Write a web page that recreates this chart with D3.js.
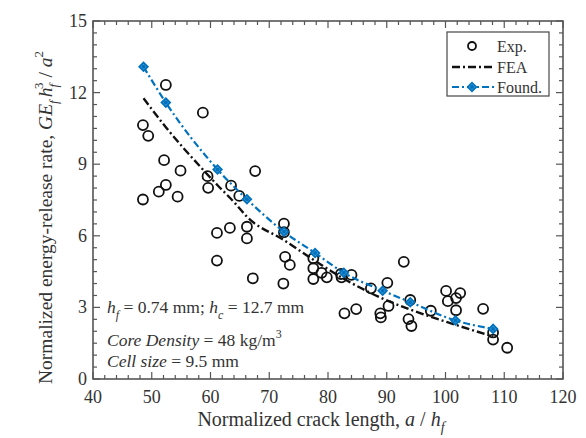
<!DOCTYPE html>
<html>
<head>
<meta charset="utf-8">
<script src="https://cdn.jsdelivr.net/npm/d3@7"></script>
<style>
  body { margin: 0; background: #fff; }
  text { font-family: "Liberation Serif", "Times New Roman", serif; fill: #333; }
</style>
</head>
<body>
<div id="chart"></div>
<script>
var W = 586, H = 438;
var margin = {top: 21, right: 23, bottom: 59, left: 93};

// experimental points (a/hf, normalized G)
var expX = [48.5, 48.5, 49.4, 52.4, 52.1, 54.9, 52.4, 51.2, 54.4, 58.7, 59.5, 59.6, 63.5, 64.9, 67.6,
            61.1, 63.3, 66.2, 66.2, 61.1, 67.2, 72.5, 72.5, 72.7, 73.5, 72.4, 77.5, 77.5, 77.5, 78.9,
            79.8, 82.2, 82.3, 84.0, 82.8, 84.8, 87.3, 90.1, 90.3, 88.9, 89.0, 92.9, 94.0, 93.7, 94.2,
            97.5, 100.1, 102.5, 100.4, 101.8, 101.8, 106.4, 108.1, 108.1, 110.5];
var expY = [7.52, 10.64, 10.19, 12.32, 9.17, 8.73, 8.13, 7.85, 7.64, 11.16, 8.50, 8.01, 8.10, 7.67, 8.71,
            6.12, 6.33, 6.38, 5.89, 4.96, 4.22, 6.51, 6.15, 5.12, 4.78, 4.00, 5.06, 4.64, 4.19, 4.45,
            4.26, 4.40, 4.26, 4.36, 2.75, 2.93, 3.80, 4.03, 3.06, 2.75, 2.58, 4.91, 3.31, 2.51, 2.22,
            2.86, 3.69, 3.60, 3.26, 3.39, 2.88, 2.94, 1.95, 1.65, 1.31];

// FEA curve
var feaX = [48.6, 52.4, 58.5, 61.2, 64.2, 66.2, 72.5, 77.8, 82.7, 89.2, 94.1, 101.6, 108.1];
var feaY = [11.76, 10.55, 8.83, 8.12, 7.36, 6.8, 5.82, 4.95, 4.2, 3.38, 2.9, 2.28, 1.78];

// Foundation model
var foundX = [48.6, 52.4, 61.2, 66.2, 72.5, 77.8, 82.7, 89.3, 94.0, 101.7, 108.1];
var foundY = [13.08, 11.58, 8.78, 7.53, 6.17, 5.28, 4.45, 3.7, 3.22, 2.45, 2.1];

var xTicks = [40, 50, 60, 70, 80, 90, 100, 110, 120];
var yTicks = [0, 3, 6, 9, 12, 15];

var blue = "#0072BD";

var svg = d3.select("#chart").append("svg")
            .attr("width", W)
            .attr("height", H);

var x = d3.scaleLinear().domain([40, 120]).range([margin.left, W - margin.right]);
var y = d3.scaleLinear().domain([0, 15]).range([H - margin.bottom, margin.top]);

var x0 = x.range()[0], x1 = x.range()[1];
var y0 = y.range()[0], y1 = y.range()[1];

// ticks, all pointing inwards, on all four sides
var axisColor = "#555";
var xMinor = d3.range(40, 120.01, 2);
var yMinor = d3.range(0, 15.01, 0.5);
var tg = svg.append("g").attr("stroke", axisColor).attr("stroke-width", 1.2);

xMinor.forEach(function(v){
  var len = (v % 10 == 0) ? 7 : 4;
  tg.append("line").attr("x1", x(v)).attr("x2", x(v)).attr("y1", y0).attr("y2", y0 - len);
  tg.append("line").attr("x1", x(v)).attr("x2", x(v)).attr("y1", y1).attr("y2", y1 + len);
});
yMinor.forEach(function(v){
  var len = (Math.abs(v % 3) < 1e-6) ? 7 : 4;
  tg.append("line").attr("y1", y(v)).attr("y2", y(v)).attr("x1", x0).attr("x2", x0 + len);
  tg.append("line").attr("y1", y(v)).attr("y2", y(v)).attr("x1", x1).attr("x2", x1 - len);
});

svg.append("rect")
   .attr("x", x0).attr("y", y1)
   .attr("width", x1 - x0).attr("height", y0 - y1)
   .attr("fill", "none").attr("stroke", axisColor).attr("stroke-width", 1.6);

// tick labels
svg.append("g").selectAll("text").data(xTicks).enter().append("text")
   .attr("x", function(d){ return x(d); })
   .attr("y", y0 + 24)
   .attr("text-anchor", "middle")
   .attr("font-size", 18)
   .text(function(d){ return d; });

svg.append("g").selectAll("text").data(yTicks).enter().append("text")
   .attr("x", x0 - 6)
   .attr("y", function(d){ return y(d) + 6; })
   .attr("text-anchor", "end")
   .attr("font-size", 18)
   .text(function(d){ return d; });

// axis titles
var xl = svg.append("text")
   .attr("x", 321).attr("y", 426)
   .attr("text-anchor", "middle")
   .attr("font-size", 20);
xl.append("tspan").text("Normalized crack length, ");
xl.append("tspan").attr("font-style", "italic").text("a");
xl.append("tspan").text(" / ");
xl.append("tspan").attr("font-style", "italic").text("h");
xl.append("tspan").attr("font-style", "italic").attr("font-size", 14).attr("dy", 6).text("f");

var yl = svg.append("text")
   .attr("transform", "translate(52,384) rotate(-90)")
   .attr("font-size", 19.5);
yl.append("tspan").text("Normalized energy-release rate,  ");
yl.append("tspan").attr("font-style", "italic").text("GE");
yl.append("tspan").attr("font-style", "italic").attr("font-size", 13).attr("dy", 6).text("f");
yl.append("tspan").attr("font-style", "italic").attr("dx", 3).attr("dy", -6).text("h");
yl.append("tspan").attr("font-style", "italic").attr("font-size", 13).attr("dy", 6).text("f");
yl.append("tspan").attr("font-size", 13).attr("dx", -5).attr("dy", -15).text("3");
yl.append("tspan").attr("dy", 9).text(" / ");
yl.append("tspan").attr("font-style", "italic").text("a");
yl.append("tspan").attr("font-size", 13).attr("dy", -9).text("2");

// curves
var line = d3.line().curve(d3.curveMonotoneX)
             .x(function(d){ return x(d[0]); })
             .y(function(d){ return y(d[1]); });

var feaData = d3.zip(feaX, feaY);
var foundData = d3.zip(foundX, foundY);
var expData = d3.zip(expX, expY);

svg.append("path")
   .attr("d", line(feaData))
   .attr("fill", "none").attr("stroke", "#111")
   .attr("stroke-width", 2.4)
   .attr("stroke-dasharray", "8,3,2,3");

svg.append("g").selectAll("circle").data(expData).enter().append("circle")
   .attr("cx", function(d){ return x(d[0]); })
   .attr("cy", function(d){ return y(d[1]); })
   .attr("r", 5)
   .attr("fill", "none")
   .attr("stroke", "#111")
   .attr("stroke-width", 1.8);

svg.append("path")
   .attr("d", line(foundData))
   .attr("fill", "none").attr("stroke", blue)
   .attr("stroke-width", 2.2)
   .attr("stroke-dasharray", "7,3,2,3");

var diamond = d3.symbol().type(d3.symbolSquare).size(36);
function drawMarker(g){
  g.append("path").attr("d", diamond).attr("transform", "rotate(45)")
   .attr("fill", "#5aa5dd").attr("stroke", blue).attr("stroke-width", 1.8);
  g.append("circle").attr("r", 2).attr("fill", blue);
}
svg.append("g").selectAll("g").data(foundData).enter().append("g")
   .attr("transform", function(d){ return "translate(" + x(d[0]) + "," + y(d[1]) + ")"; })
   .each(function(){ drawMarker(d3.select(this)); });

// annotation
var ann = svg.append("g").attr("font-size", 17.5);
var a1 = ann.append("text").attr("x", 107).attr("y", 313);
a1.append("tspan").attr("font-style", "italic").text("h");
a1.append("tspan").attr("font-style", "italic").attr("font-size", 12).attr("dy", 6).text("f");
a1.append("tspan").attr("dy", -6).text(" = 0.74 mm; ");
a1.append("tspan").attr("font-style", "italic").text("h");
a1.append("tspan").attr("font-style", "italic").attr("font-size", 12).attr("dy", 6).text("c");
a1.append("tspan").attr("dy", -6).text(" = 12.7 mm");

var a2 = ann.append("text").attr("x", 107).attr("y", 346);
a2.append("tspan").attr("font-style", "italic").text("Core Density");
a2.append("tspan").text(" = 48 kg/m");
a2.append("tspan").attr("font-size", 12).attr("dy", -8).text("3");

var a3 = ann.append("text").attr("x", 107).attr("y", 367);
a3.append("tspan").attr("font-style", "italic").text("Cell size");
a3.append("tspan").text(" = 9.5 mm");

// legend
var lg = svg.append("g");
lg.append("rect")
  .attr("x", 447).attr("y", 32).attr("width", 102).attr("height", 64)
  .attr("fill", "#fff").attr("stroke", "#555").attr("stroke-width", 1.3);

lg.append("circle").attr("cx", 472).attr("cy", 46).attr("r", 4)
  .attr("fill", "none").attr("stroke", "#111").attr("stroke-width", 1.8);
lg.append("line").attr("x1", 452).attr("x2", 494).attr("y1", 67).attr("y2", 67)
  .attr("stroke", "#111").attr("stroke-width", 2.4).attr("stroke-dasharray", "8,3,2,3");
lg.append("line").attr("x1", 452).attr("x2", 494).attr("y1", 87).attr("y2", 87)
  .attr("stroke", blue).attr("stroke-width", 2.2).attr("stroke-dasharray", "7,3,2,3");
drawMarker(lg.append("g").attr("transform", "translate(472,87)"));

var legendNames = ["Exp.", "FEA", "Found."];
lg.selectAll("text.lab").data(legendNames).enter().append("text")
  .attr("class", "lab")
  .attr("x", 497)
  .attr("y", function(d, i){ return 52 + i * 20.5; })
  .attr("font-size", 16)
  .text(function(d){ return d; });
</script>
</body>
</html>
